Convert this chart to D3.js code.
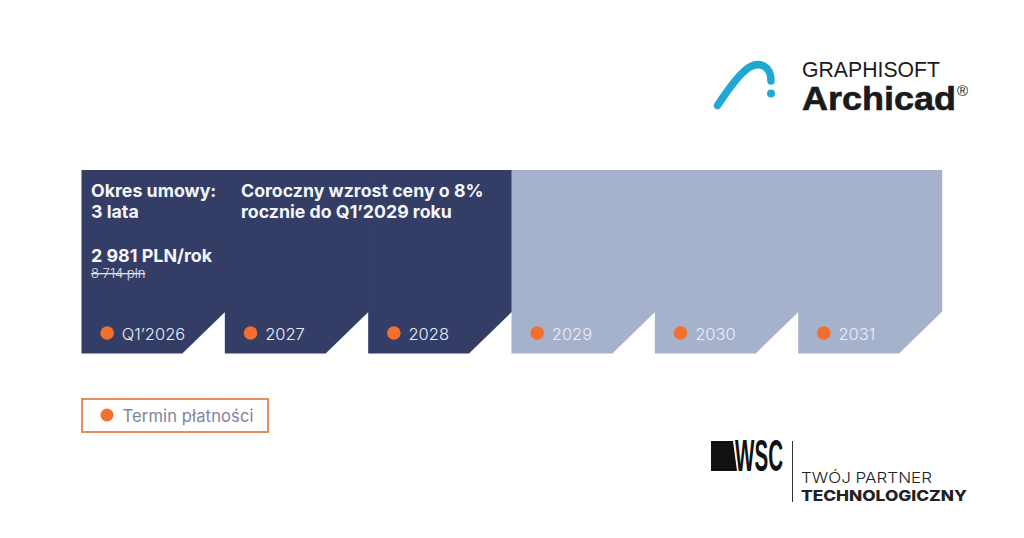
<!DOCTYPE html>
<html>
<head>
<meta charset="utf-8">
<script src="https://cdn.jsdelivr.net/npm/d3@7"></script>
<style>
  html, body { margin: 0; padding: 0; background: #fff; }
  svg { display: block; font-family: Inter, "Noto Sans", sans-serif; }
</style>
</head>
<body>
<div id="chart-area"></div>
<script>
// data
const periods = ["Q1'2026", "2027", "2028", "2029", "2030", "2031"];
const periodLabels = ["Q1’2026", "2027", "2028", "2029", "2030", "2031"];
const paidPeriods = ["Q1'2026", "2027", "2028"];
const contractLines = ["Okres umowy:", "3 lata"];
const priceLabel = "2 981 PLN/rok";
const oldPriceLabel = "8 714 pln";
const growthLines = ["Coroczny wzrost ceny o 8%", "rocznie do Q1’2029 roku"];
const legendLabel = "Termin płatności";

const width = 1024, height = 538;
const blockTop = 170, blockBottom = 353.5, notch = 42;
const navy = "#333d66", light = "#a6b1cc", orange = "#f26f2e";

const svg = d3.select("#chart-area").append("svg")
  .attr("width", width).attr("height", height);

const x = d3.scaleBand().domain(periods).range([81.5, 941.5]);

// blocks with the cut corner
const line = d3.line();
const blocks = svg.selectAll(".block").data(periods).enter().append("g").attr("class", "block");

blocks.append("path")
  .attr("d", d => {
    const x0 = x(d), x1 = x0 + x.bandwidth();
    return line([[x0, blockTop], [x1 + 0.7, blockTop], [x1 + 0.7, blockBottom - notch], [x1 - notch - 0.5, blockBottom], [x0, blockBottom]]) + "Z";
  })
  .attr("fill", d => paidPeriods.includes(d) ? navy : light);

blocks.append("circle")
  .attr("cx", d => x(d) + 25.7).attr("cy", 333).attr("r", 6.8)
  .attr("fill", orange);

blocks.append("text")
  .attr("x", d => x(d) + 40.3).attr("y", 339.5)
  .attr("font-size", 16.5).attr("font-weight", 300).attr("fill", "#eceef5")
  .text((d, i) => periodLabels[i]);

// block headings
function heading(text, xPos, yPos, size) {
  return svg.append("text").attr("x", xPos).attr("y", yPos)
    .attr("font-size", size).attr("font-weight", 700).attr("fill", "#f4f5f9")
    .text(text);
}
contractLines.forEach((t, i) => heading(t, 91, 197 + i * 21.3, 17.8));
growthLines.forEach((t, i) => heading(t, 241, 197 + i * 21.3, 17.75));
heading(priceLabel, 91, 261.5, 17.9);

svg.append("text").attr("x", 91).attr("y", 278)
  .attr("font-size", 13).attr("font-weight", 300).attr("fill", "#e4e6ef")
  .attr("text-decoration", "line-through")
  .text(oldPriceLabel);

// legend
svg.append("rect").attr("x", 82).attr("y", 399).attr("width", 186).attr("height", 33)
  .attr("fill", "none").attr("stroke", "#ea8a5f").attr("stroke-width", 2);
svg.append("circle").attr("cx", 107).attr("cy", 415).attr("r", 6.5).attr("fill", orange);
svg.append("text").attr("x", 122.5).attr("y", 421.5)
  .attr("font-size", 16.6).attr("font-weight", 400).attr("fill", "#80859a")
  .attr("letter-spacing", 0.1)
  .text(legendLabel);

// Archicad logo
svg.append("path")
  .attr("d", "M717.5 105.5 C729 88 740 73 749 67.5 C760 61 771 66 771 81")
  .attr("fill", "none").attr("stroke", "#1fa8d2").attr("stroke-width", 7.5).attr("stroke-linecap", "round");
svg.append("circle").attr("cx", 771).attr("cy", 93.5).attr("r", 4).attr("fill", "#1fa8d2");
svg.append("text").attr("x", 802).attr("y", 77)
  .attr("font-family", "Liberation Sans, sans-serif").attr("font-size", 21.5).attr("fill", "#1a1a1a")
  .attr("textLength", 138).attr("lengthAdjust", "spacingAndGlyphs")
  .text("GRAPHISOFT");
svg.append("text").attr("x", 802).attr("y", 110)
  .attr("font-family", "Liberation Sans, sans-serif").attr("font-size", 34).attr("font-weight", 700).attr("fill", "#1a1a1a")
  .attr("stroke", "#1a1a1a").attr("stroke-width", 0.6)
  .attr("textLength", 154).attr("lengthAdjust", "spacingAndGlyphs")
  .text("Archicad");
svg.append("text").attr("x", 957).attr("y", 96)
  .attr("font-family", "Liberation Sans, sans-serif").attr("font-size", 15).attr("fill", "#1a1a1a")
  .text("®");

// WSC logo
svg.append("path")
  .attr("d", line([[711, 441], [733, 441], [737, 471], [711, 471]]) + "Z")
  .attr("fill", "#111");
svg.append("text").attr("x", 735).attr("y", 471)
  .attr("font-family", "Liberation Sans Narrow, Liberation Sans, sans-serif").attr("font-size", 43.5).attr("font-weight", 700).attr("fill", "#111")
  .attr("textLength", 48).attr("lengthAdjust", "spacingAndGlyphs")
  .text("WSC");
svg.append("line").attr("x1", 792.5).attr("x2", 792.5).attr("y1", 441).attr("y2", 502)
  .attr("stroke", "#333").attr("stroke-width", 1);
svg.append("text").attr("x", 801).attr("y", 483)
  .attr("font-size", 15).attr("font-weight", 300).attr("fill", "#222")
  .attr("textLength", 131).attr("lengthAdjust", "spacingAndGlyphs")
  .text("TWÓJ PARTNER");
svg.append("text").attr("x", 801).attr("y", 501)
  .attr("font-size", 14.5).attr("font-weight", 800).attr("fill", "#222")
  .attr("textLength", 166).attr("lengthAdjust", "spacingAndGlyphs")
  .text("TECHNOLOGICZNY");
</script>
</body>
</html>
